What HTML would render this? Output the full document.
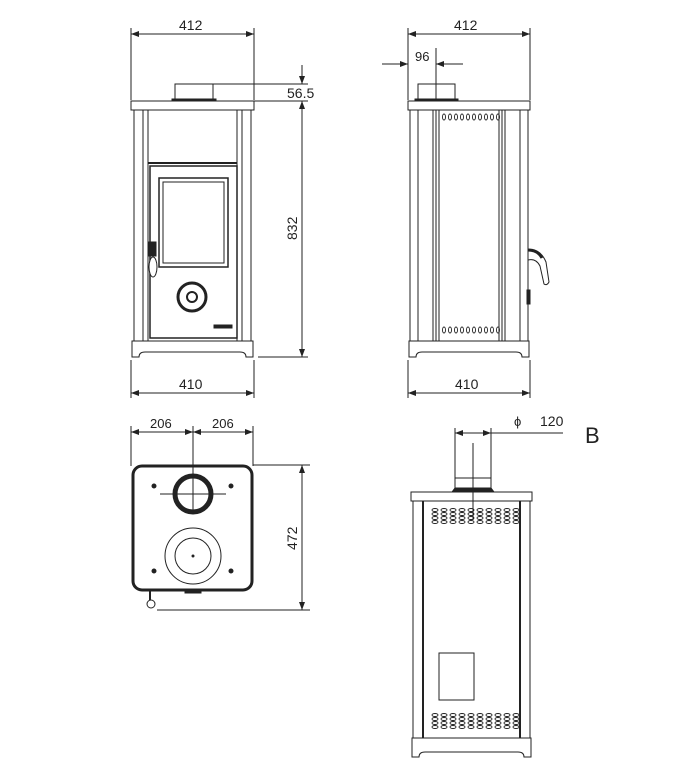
<!DOCTYPE html>
<html><head><style>body{margin:0;background:#fff}svg{display:block}text{font-family:"Liberation Sans",sans-serif;fill:#222}</style></head><body>
<svg width="685" height="768" viewBox="0 0 685 768" xmlns="http://www.w3.org/2000/svg">
<defs>
<marker id="a" markerWidth="8" markerHeight="6" refX="8" refY="3" orient="auto-start-reverse" markerUnits="userSpaceOnUse"><path d="M0,0 L8,3 L0,6z" fill="#222"/></marker>
</defs>
<g stroke="#222" fill="none" stroke-width="1">
<!-- FRONT VIEW -->
<line x1="131" y1="28" x2="131" y2="100"/><line x1="254" y1="28" x2="254" y2="100"/>
<line x1="131" y1="34" x2="254" y2="34" marker-start="url(#a)" marker-end="url(#a)"/>
<rect x="175" y="84" width="38" height="17"/><rect x="172" y="99" width="44" height="2" fill="#222"/>
<line x1="213" y1="84" x2="308" y2="84"/><line x1="254" y1="101" x2="308" y2="101"/>
<line x1="302" y1="65" x2="302" y2="84" marker-end="url(#a)"/>
<line x1="302" y1="101" x2="302" y2="357" marker-start="url(#a)" marker-end="url(#a)"/>
<line x1="258" y1="357" x2="308" y2="357"/>
<rect x="131" y="101" width="123" height="9"/>
<rect x="134" y="110" width="117" height="231"/>
<line x1="143" y1="110" x2="143" y2="341"/><line x1="148" y1="110" x2="148" y2="341"/>
<line x1="237" y1="110" x2="237" y2="341"/><line x1="242" y1="110" x2="242" y2="341"/>
<line x1="148" y1="163" x2="237" y2="163" stroke-width="2"/>
<rect x="150" y="166" width="87" height="172" stroke-width="1.5"/>
<rect x="159" y="178" width="69" height="89" stroke-width="1.5"/>
<rect x="163" y="182" width="61" height="81"/>
<rect x="149" y="242" width="7" height="14" fill="#222"/>
<ellipse cx="153" cy="267" rx="4" ry="10" fill="#fff"/>
<circle cx="192" cy="297" r="14" stroke-width="3"/><circle cx="192" cy="297" r="5" stroke-width="2"/>
<rect x="214" y="325" width="18" height="3" fill="#222"/>
<path d="M132 341 H253 V357 H246 Q246 352 240 352 H145 Q139 352 139 357 H132Z"/>
<line x1="131" y1="360" x2="131" y2="398"/><line x1="254" y1="360" x2="254" y2="398"/>
<line x1="131" y1="393" x2="254" y2="393" marker-start="url(#a)" marker-end="url(#a)"/>
<!-- SIDE VIEW -->
<line x1="408" y1="28" x2="408" y2="100"/><line x1="530" y1="28" x2="530" y2="100"/>
<line x1="408" y1="34" x2="530" y2="34" marker-start="url(#a)" marker-end="url(#a)"/>
<line x1="436" y1="48" x2="436" y2="101"/>
<line x1="382" y1="64" x2="408" y2="64" marker-end="url(#a)"/>
<line x1="436" y1="64" x2="463" y2="64" marker-start="url(#a)"/>
<rect x="418" y="84" width="37" height="17"/><rect x="415" y="99" width="43" height="2" fill="#222"/>
<rect x="408" y="101" width="122" height="9"/>
<rect x="410" y="110" width="118" height="231"/>
<line x1="418" y1="110" x2="418" y2="341"/><line x1="520" y1="110" x2="520" y2="341"/>
<line x1="433" y1="110" x2="433" y2="341"/><line x1="436" y1="110" x2="436" y2="341"/><line x1="439" y1="110" x2="439" y2="341"/>
<line x1="499" y1="110" x2="499" y2="341"/><line x1="502" y1="110" x2="502" y2="341"/><line x1="505" y1="110" x2="505" y2="341"/>
<path d="M528 250 Q540 248 546 262 L549 282 Q547 286 544 284 L540 266 Q536 258 528 260Z" fill="#fff"/>
<path d="M528 250 Q538 250 542 258" stroke-width="3"/>
<rect x="527" y="290" width="3" height="14" fill="#222"/>
<path d="M409 341 H529 V357 H522 Q522 352 516 352 H422 Q416 352 416 357 H409Z"/>
<line x1="408" y1="360" x2="408" y2="398"/><line x1="530" y1="360" x2="530" y2="398"/>
<line x1="408" y1="393" x2="530" y2="393" marker-start="url(#a)" marker-end="url(#a)"/>
<!-- TOP VIEW -->
<line x1="131" y1="426" x2="131" y2="466"/><line x1="253" y1="426" x2="253" y2="466"/><line x1="193" y1="426" x2="193" y2="510"/>
<line x1="131" y1="432" x2="193" y2="432" marker-start="url(#a)" marker-end="url(#a)"/>
<line x1="193" y1="432" x2="253" y2="432" marker-start="url(#a)" marker-end="url(#a)"/>
<rect x="133" y="466" width="119" height="124" rx="9" stroke-width="3"/>
<circle cx="193" cy="494" r="18" stroke-width="5"/>
<line x1="160" y1="494" x2="226" y2="494"/>
<circle cx="193" cy="556" r="28"/><circle cx="193" cy="556" r="18"/>
<circle cx="193" cy="556" r="1" fill="#222"/>
<circle cx="154" cy="486" r="2" fill="#222"/><circle cx="231" cy="486" r="2" fill="#222"/>
<circle cx="154" cy="571" r="2" fill="#222"/><circle cx="231" cy="571" r="2" fill="#222"/>
<line x1="150" y1="590" x2="150" y2="600" stroke-width="2"/><circle cx="151" cy="604" r="4"/>
<rect x="185" y="591" width="16" height="2" fill="#222"/>
<line x1="253" y1="465" x2="310" y2="465"/><line x1="157" y1="610" x2="310" y2="610"/>
<line x1="302" y1="465" x2="302" y2="610" marker-start="url(#a)" marker-end="url(#a)"/>
<!-- BACK VIEW -->
<line x1="455" y1="428" x2="455" y2="490"/><line x1="491" y1="428" x2="491" y2="490"/>
<line x1="455" y1="433" x2="491" y2="433" marker-start="url(#a)" marker-end="url(#a)"/>
<line x1="491" y1="433" x2="563" y2="433"/>
<line x1="473" y1="443" x2="473" y2="520"/>
<line x1="455" y1="478" x2="491" y2="478"/>
<path d="M452 492 L455 488 H491 L494 492Z" fill="#222"/>
<rect x="411" y="492" width="121" height="9"/>
<rect x="413" y="501" width="117" height="237"/>
<line x1="423" y1="501" x2="423" y2="738" stroke-width="2"/><line x1="520" y1="501" x2="520" y2="738" stroke-width="2"/>
<rect x="439" y="653" width="35" height="47"/>
<path d="M412 738 H531 V757 H524 Q524 752 518 752 H425 Q419 752 419 757 H412Z"/>
</g>
<g fill="none" stroke="#222" stroke-width="0.9">
<!-- vents side -->
<g id="v1"><ellipse cx="444" cy="117" rx="1.5" ry="3"/><ellipse cx="450" cy="117" rx="1.5" ry="3"/><ellipse cx="456" cy="117" rx="1.5" ry="3"/><ellipse cx="462" cy="117" rx="1.5" ry="3"/><ellipse cx="468" cy="117" rx="1.5" ry="3"/><ellipse cx="474" cy="117" rx="1.5" ry="3"/><ellipse cx="480" cy="117" rx="1.5" ry="3"/><ellipse cx="486" cy="117" rx="1.5" ry="3"/><ellipse cx="492" cy="117" rx="1.5" ry="3"/><ellipse cx="498" cy="117" rx="1.5" ry="3"/></g>
<use href="#v1" y="213"/>
<!-- vents back -->
<g id="v2"><ellipse cx="435" cy="510" rx="3" ry="1.5"/><ellipse cx="435" cy="514" rx="3" ry="1.5"/><ellipse cx="435" cy="518" rx="3" ry="1.5"/><ellipse cx="435" cy="522" rx="3" ry="1.5"/></g>
<use href="#v2" x="9"/><use href="#v2" x="18"/><use href="#v2" x="27"/><use href="#v2" x="36"/><use href="#v2" x="45"/><use href="#v2" x="54"/><use href="#v2" x="63"/><use href="#v2" x="72"/><use href="#v2" x="81"/>
<use href="#v2" y="205"/><use href="#v2" x="9" y="205"/><use href="#v2" x="18" y="205"/><use href="#v2" x="27" y="205"/><use href="#v2" x="36" y="205"/><use href="#v2" x="45" y="205"/><use href="#v2" x="54" y="205"/><use href="#v2" x="63" y="205"/><use href="#v2" x="72" y="205"/><use href="#v2" x="81" y="205"/>
</g>
<g font-size="14">
<text x="179" y="30">412</text>
<text x="454" y="30">412</text>
<text x="287" y="98">56.5</text>
<text transform="translate(297,240) rotate(-90)">832</text>
<text x="179" y="389">410</text>
<text x="455" y="389">410</text>
<text x="415" y="61" font-size="13">96</text>
<text x="150" y="428" font-size="13">206</text>
<text x="212" y="428" font-size="13">206</text>
<text transform="translate(297,550) rotate(-90)">472</text>
<text x="514" y="426" font-size="13">ϕ</text>
<text x="540" y="426">120</text>
<text x="585" y="443" font-size="22">B</text>
</g>
</svg>
</body></html>
